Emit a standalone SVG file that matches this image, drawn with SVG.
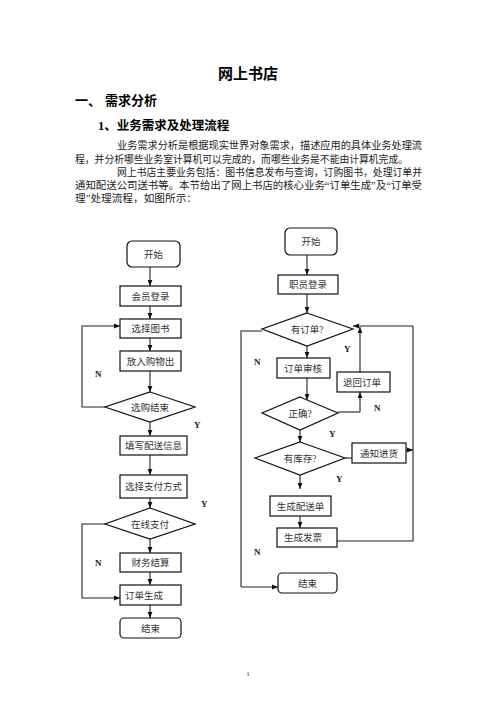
<svg xmlns="http://www.w3.org/2000/svg" width="496" height="702" viewBox="0 0 496 702">
<defs>
<marker id="ah" viewBox="0 0 10 10" refX="10" refY="5" markerWidth="6" markerHeight="6" orient="auto" markerUnits="userSpaceOnUse">
<path d="M0,1 L10,5 L0,9 z" fill="#111"/>
</marker>
</defs>
<style>
.t{font-family:"Liberation Serif","Noto Sans CJK SC",serif;fill:#222}
.b{font-weight:bold;fill:#000}
.p{font-size:10.5px}
.n{font-size:9.5px;text-anchor:middle;fill:#333}
.nl{font-size:9.5px;fill:#333}
.lb{font-size:9px;font-weight:bold;fill:#222}
.box{fill:#fff;stroke:#111;stroke-width:1.2}
.c{fill:none;stroke:#222;stroke-width:1.1;marker-end:url(#ah)}
.cg{fill:none;stroke:#666;stroke-width:1.6;marker-end:url(#ah)}
.l{fill:none;stroke:#222;stroke-width:1.1}
.lg{fill:none;stroke:#666;stroke-width:1.6}
</style>
<rect width="496" height="702" fill="#fff"/>
<g id="header">
<text class="t b" x="248" y="79" font-size="15" text-anchor="middle">网上书店</text>
<text class="t b" x="75" y="105" font-size="13">一、</text>
<text class="t b" x="105" y="105" font-size="13">需求分析</text>
<text class="t b" x="98" y="130" font-size="12.5">1、业务需求及处理流程</text>
<text class="t p" x="117" y="149" textLength="305" lengthAdjust="spacingAndGlyphs">业务需求分析是根据现实世界对象需求，描述应用的具体业务处理流</text>
<text class="t p" x="75" y="163" textLength="333" lengthAdjust="spacingAndGlyphs">程，并分析哪些业务室计算机可以完成的，而哪些业务是不能由计算机完成。</text>
<text class="t p" x="117" y="176" textLength="305" lengthAdjust="spacingAndGlyphs">网上书店主要业务包括：图书信息发布与查询，订购图书，处理订单并</text>
<text class="t p" x="75" y="189" textLength="347" lengthAdjust="spacingAndGlyphs">通知配送公司送书等。本节给出了网上书店的核心业务“订单生成”及“订单受</text>
<text class="t p" x="75" y="202" textLength="122" lengthAdjust="spacingAndGlyphs">理”处理流程，如图所示：</text>
</g>
<g id="connectors">
<!-- left flow -->
<path class="cg" d="M150,267 V286"/>
<path class="cg" d="M150,306 V319"/>
<path class="cg" d="M150,338 V351"/>
<path class="cg" d="M150,371 V392"/>
<path class="cg" d="M150,422 V436"/>
<path class="cg" d="M150,455 V475"/>
<path class="cg" d="M150,498 V508"/>
<path class="cg" d="M150,539 V553"/>
<path class="cg" d="M150,572 V585"/>
<path class="cg" d="M150,605 V618"/>
<path class="c" d="M105,407 H82 V326 H120"/>
<path class="c" d="M105,524 H82 V598 H120"/>
<!-- right flow -->
<path class="c" d="M307,255 V275"/>
<path class="c" d="M307,294 V313"/>
<path class="c" d="M307,346 V358"/>
<path class="c" d="M307,378 V400"/>
<path class="cg" d="M300,430 V442"/>
<path class="cg" d="M300,475 V489"/>
<path class="cg" d="M300,516 V528"/>
<path class="lg" d="M338,412 H360"/>
<path class="cg" d="M360,412 V392"/>
<path class="cg" d="M360,372 V327"/>
<path class="c" d="M413,326 H353"/>
<path class="l" d="M413,326 V541 H337"/>
<path class="l" d="M345,458 H352"/>
<path class="c" d="M406,450 H413"/>
<path class="lg" d="M262,331 H241 V587"/>
<path class="c" d="M241,587 H278"/>
</g>
<g id="labels">
<text class="t lb" x="95" y="377">N</text>
<text class="t lb" x="194" y="428">Y</text>
<text class="t lb" x="201" y="507">Y</text>
<text class="t lb" x="95" y="566">N</text>
<text class="t lb" x="254" y="365">N</text>
<text class="t lb" x="344" y="352">Y</text>
<text class="t lb" x="374" y="411">N</text>
<text class="t lb" x="329" y="437">Y</text>
<text class="t lb" x="336" y="482">Y</text>
<text class="t lb" x="254" y="555">N</text>
</g>
<g id="l-start"><rect class="box" x="127" y="241" width="53" height="26" rx="5"/><text class="t n" x="153.5" y="257.5">开始</text></g>
<g id="l-login"><rect class="box" x="120" y="286" width="61" height="20"/><text class="t n" x="150.5" y="299.5">会员登录</text></g>
<g id="l-select"><rect class="box" x="120" y="319" width="61" height="19"/><text class="t n" x="150.5" y="332">选择图书</text></g>
<g id="l-cart"><rect class="box" x="120" y="351" width="61" height="20"/><text class="t n" x="150.5" y="364.5">放入购物出</text></g>
<g id="l-done"><path class="box" d="M150,392 L195,407 L150,422 L105,407 Z"/><text class="t n" x="150" y="410.5">选购结束</text></g>
<g id="l-ship"><rect class="box" x="120" y="436" width="67" height="19"/><text class="t n" x="153.5" y="449">填写配送信息</text></g>
<g id="l-pay"><rect class="box" x="120" y="475" width="67" height="23"/><text class="t n" x="153.5" y="490">选择支付方式</text></g>
<g id="l-online"><path class="box" d="M150,508 L195,524 L150,539 L105,524 Z"/><text class="t n" x="150" y="527.5">在线支付</text></g>
<g id="l-settle"><rect class="box" x="120" y="553" width="61" height="19"/><text class="t n" x="150.5" y="566">财务结算</text></g>
<g id="l-order"><rect class="box" x="120" y="585" width="61" height="20"/><text class="t nl" x="125" y="598.5">订单生成</text></g>
<g id="l-end"><rect class="box" x="120" y="618" width="61" height="20" rx="4"/><text class="t n" x="150.5" y="631.5">结束</text></g>
<g id="r-start"><rect class="box" x="285" y="228" width="52" height="27" rx="5"/><text class="t n" x="311" y="245">开始</text></g>
<g id="r-login"><rect class="box" x="278" y="275" width="60" height="19"/><text class="t n" x="308" y="288">职员登录</text></g>
<g id="r-has"><path class="box" d="M307,313 L353,329 L307,346 L262,329 Z"/><text class="t n" x="307" y="332.5">有订单?</text></g>
<g id="r-review"><rect class="box" x="277" y="358" width="53" height="20"/><text class="t nl" x="284" y="371.5">订单审核</text></g>
<g id="r-return"><rect class="box" x="337" y="372" width="53" height="20"/><text class="t nl" x="343" y="385.5">退回订单</text></g>
<g id="r-ok"><path class="box" d="M300,397 L338,413 L300,430 L262,413 Z"/><text class="t n" x="300" y="416.5">正确?</text></g>
<g id="r-stock"><path class="box" d="M300,442 L345,458 L300,475 L255,458 Z"/><text class="t n" x="300" y="461.5">有库存?</text></g>
<g id="r-notify"><rect class="box" x="352" y="443" width="54" height="20"/><text class="t n" x="379" y="456.5">通知进货</text></g>
<g id="r-delivery"><rect class="box" x="270" y="496" width="61" height="20"/><text class="t n" x="300.5" y="509.5">生成配送单</text></g>
<g id="r-invoice"><rect class="box" x="277" y="528" width="60" height="19"/><text class="t nl" x="284" y="541">生成发票</text></g>
<g id="r-end"><rect class="box" x="278" y="573" width="59" height="20" rx="4"/><text class="t n" x="307.5" y="586.5">结束</text></g>
<text class="t" x="248" y="676" font-size="7" text-anchor="middle">1</text>
</svg>
